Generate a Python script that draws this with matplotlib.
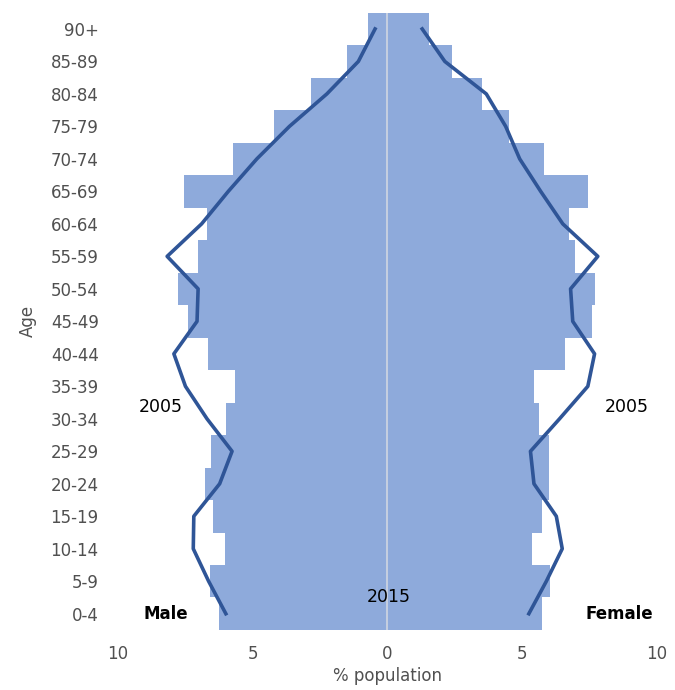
import numpy as np
import matplotlib.pyplot as plt

plt.rcParams['font.family'] = ['DejaVu Sans']

# age groups, bottom to top
ages = ['0-4', '5-9', '10-14', '15-19', '20-24', '25-29', '30-34', '35-39',
        '40-44', '45-49', '50-54', '55-59', '60-64', '65-69', '70-74',
        '75-79', '80-84', '85-89', '90+']

# % of population, 2015 (bars)
male_2015 = [6.24, 6.60, 6.04, 6.48, 6.78, 6.57, 5.98, 5.67, 6.66, 7.41,
             7.77, 7.04, 6.70, 7.56, 5.75, 4.23, 2.83, 1.51, 0.71]
female_2015 = [5.75, 6.04, 5.36, 5.75, 5.98, 5.98, 5.61, 5.44, 6.60, 7.59,
               7.72, 6.97, 6.73, 7.46, 5.80, 4.50, 3.51, 2.38, 1.54]

# % of population, 2005 (lines)
male_2005 = [6.00, 6.64, 7.21, 7.19, 6.23, 5.77, 6.70, 7.50, 7.93, 7.07,
             7.03, 8.18, 6.90, 5.91, 4.85, 3.64, 2.25, 1.08, 0.46]
female_2005 = [5.25, 5.90, 6.49, 6.27, 5.44, 5.31, 6.39, 7.44, 7.69, 6.88,
               6.80, 7.81, 6.51, 5.69, 4.91, 4.39, 3.67, 2.13, 1.29]

x_ticks = [-10, -5, 0, 5, 10]
x_ticklabels = ['10', '5', '0', '5', '10']

bar_col = '#8eaadb'
line_col = '#2f5597'
grey = '#505050'

y = np.arange(len(ages))

fig = plt.figure(figsize=(6.75, 6.9), dpi=100)
ax = fig.add_axes([0.175, 0.087, 0.798, 0.8946])

ax.barh(y, -np.array(male_2015), height=1.0, color=bar_col, linewidth=0)
ax.barh(y, female_2015, height=1.0, color=bar_col, linewidth=0)
ax.axvline(0, color='#d0d6e2', linewidth=1.2)

ax.plot(-np.array(male_2005), y, color=line_col, linewidth=2.6)
ax.plot(female_2005, y, color=line_col, linewidth=2.6)

ax.set_xlim(-10, 10)
ax.set_ylim(-0.5, len(ages) - 0.5)
ax.set_yticks(y)
ax.set_yticklabels(ages)
ax.set_xticks(x_ticks)
ax.set_xticklabels(x_ticklabels)
ax.tick_params(axis='y', length=0, pad=14, labelsize=12, labelcolor=grey)
ax.tick_params(axis='x', length=0, pad=11, labelsize=12, labelcolor=grey)
for s in ax.spines.values():
    s.set_visible(False)

ax.set_ylabel('Age', fontsize=12, color=grey, labelpad=10)
ax.set_xlabel('% population', fontsize=12, color=grey, labelpad=3)

ax.text(-8.43, 6.35, '2005', ha='center', va='center', fontsize=12.5)
ax.text(8.9, 6.35, '2005', ha='center', va='center', fontsize=12.5)
ax.text(0.05, 0.5, '2015', ha='center', va='center', fontsize=12.5)
ax.text(-8.24, 0, 'Male', ha='center', va='center', fontsize=12,
        fontweight='bold')
ax.text(8.6, 0, 'Female', ha='center', va='center', fontsize=12,
        fontweight='bold')

fig.savefig('out.png', dpi=100)
